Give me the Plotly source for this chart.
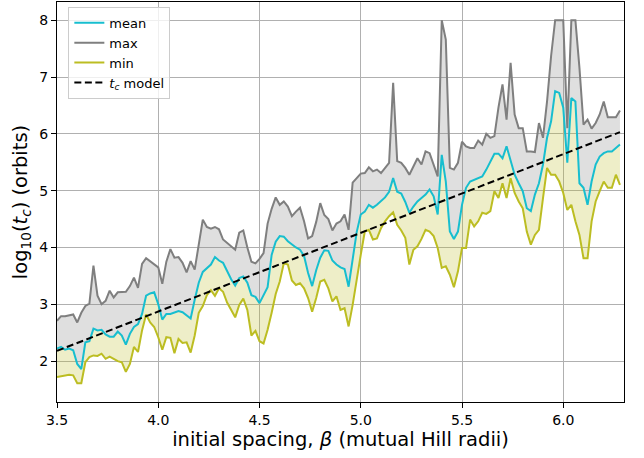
import numpy as np
import plotly.graph_objects as go

# initial spacing beta (mutual Hill radii), 3.50 .. 6.28 step 0.02
beta = [round(3.5 + 0.02 * k, 2) for k in range(140)]

t_max = [2.71, 2.79, 2.79, 2.81, 2.82, 2.68, 2.85, 2.97, 3.01, 3.68,
         3.15, 3.00, 3.06, 3.24, 3.12, 3.21, 3.21, 3.22, 3.32, 3.47,
         3.29, 3.71, 3.81, 3.76, 3.71, 3.65, 3.36, 3.75, 3.97, 3.82,
         3.83, 3.73, 3.56, 3.76, 3.61, 4.02, 4.49, 4.36, 4.33, 4.36,
         4.32, 4.14, 4.08, 4.01, 3.96, 4.26, 4.30, 4.00, 3.75, 3.72,
         3.80, 3.90, 4.42, 4.68, 4.88, 4.75, 4.81, 4.72, 4.55, 4.63,
         4.70, 4.46, 4.16, 4.20, 4.45, 4.78, 4.57, 4.50, 4.30, 4.42,
         4.46, 4.58, 4.31, 5.14, 5.22, 5.30, 5.31, 5.41, 5.34, 5.37,
         5.31, 5.40, 5.49, 6.90, 5.52, 5.49, 5.40, 5.28, 5.43, 5.57,
         5.46, 5.69, 5.66, 5.46, 5.25, 8.00, 7.66, 5.40, 5.37, 5.49,
         5.86, 5.78, 5.75, 5.75, 5.88, 5.81, 6.00, 5.93, 5.96, 6.46,
         6.87, 6.25, 7.25, 6.34, 6.10, 6.10, 5.69, 5.69, 5.68, 6.19,
         5.93, 6.57, 7.37, 8.00, 8.00, 8.00, 6.10, 8.00, 8.00, 7.16,
         6.16, 6.25, 6.09, 6.19, 6.34, 6.57, 6.29, 6.29, 6.29, 6.41]

t_mean = [2.22, 2.25, 2.20, 2.22, 2.19, 1.95, 1.86, 2.33, 2.35, 2.57,
          2.54, 2.55, 2.47, 2.43, 2.43, 2.52, 2.45, 2.29, 2.48, 2.60,
          2.65, 2.83, 3.15, 3.19, 3.21, 3.00, 2.73, 2.83, 2.83, 2.86,
          2.88, 2.86, 2.80, 2.75, 3.08, 3.38, 3.57, 3.64, 3.70, 3.83,
          3.77, 3.73, 3.57, 3.44, 3.33, 3.46, 3.49, 3.38, 3.16, 3.13,
          3.02, 3.15, 3.30, 3.87, 4.10, 4.20, 4.19, 4.11, 4.05, 4.00,
          3.96, 3.85, 3.55, 3.32, 3.60, 3.82, 3.95, 3.94, 3.77, 3.70,
          3.65, 3.62, 3.31, 3.80, 4.27, 4.58, 4.63, 4.75, 4.70, 4.75,
          4.81, 4.88, 4.98, 5.22, 4.98, 4.95, 4.80, 4.61, 4.72, 4.81,
          4.87, 4.93, 5.02, 4.90, 4.58, 5.63, 5.16, 4.28, 4.15, 4.28,
          4.75, 5.05, 5.16, 5.19, 5.22, 5.25, 5.37, 5.52, 5.65, 5.65,
          5.57, 5.78, 5.55, 5.28, 5.13, 4.99, 4.69, 4.64, 4.93, 5.13,
          5.46, 5.93, 6.22, 6.75, 6.72, 6.46, 5.49, 6.63, 6.57, 5.13,
          5.05, 4.75, 5.16, 5.46, 5.60, 5.66, 5.69, 5.69, 5.75, 5.81]

t_min = [1.72, 1.73, 1.75, 1.76, 1.75, 1.61, 1.61, 1.98, 2.07, 2.10,
         2.09, 2.13, 2.04, 2.08, 2.04, 2.00, 1.98, 1.81, 1.95, 2.25,
         2.16, 2.54, 2.82, 2.68, 2.60, 2.42, 2.20, 2.42, 2.41, 2.14,
         2.39, 2.32, 2.33, 2.15, 2.45, 2.85, 2.97, 3.16, 3.25, 3.15,
         3.28, 3.22, 3.03, 2.90, 2.77, 2.99, 3.10, 2.90, 2.45, 2.53,
         2.35, 2.31, 2.55, 2.85, 3.18, 3.40, 3.72, 3.70, 3.42, 3.34,
         3.37, 3.28, 3.11, 2.87, 3.11, 3.40, 3.43, 3.28, 3.05, 3.14,
         2.90, 2.93, 2.61, 2.99, 3.46, 3.87, 4.28, 4.31, 4.14, 4.16,
         4.34, 4.46, 4.55, 4.62, 4.40, 4.30, 4.17, 3.70, 3.96, 4.02,
         4.15, 4.31, 4.28, 4.20, 3.99, 3.64, 3.67, 3.52, 3.30, 3.58,
         3.99, 3.99, 4.49, 4.37, 4.46, 4.61, 4.59, 4.64, 4.99, 4.87,
         5.13, 4.87, 5.22, 4.96, 4.81, 4.69, 4.28, 4.05, 4.22, 4.31,
         4.87, 5.40, 5.28, 5.28, 5.16, 4.96, 4.66, 4.75, 4.46, 4.22,
         3.81, 3.81, 4.46, 4.81, 4.99, 5.16, 5.05, 5.05, 5.28, 5.10]

# t_c model line (end points)
model_beta = [3.5, 6.28]
model_val = [2.18, 6.03]

C_MEAN = "#17becf"
C_MAX = "#7f7f7f"
C_MIN = "#bcbd22"
FONT = "DejaVu Sans"

fig = go.Figure()
# fills
fig.add_trace(go.Scatter(x=beta, y=t_min, mode="lines", line=dict(width=0),
                         showlegend=False, hoverinfo="skip"))
fig.add_trace(go.Scatter(x=beta, y=t_mean, mode="lines", line=dict(width=0),
                         fill="tonexty", fillcolor="rgba(188,189,34,0.25)",
                         showlegend=False, hoverinfo="skip"))
fig.add_trace(go.Scatter(x=beta, y=t_max, mode="lines", line=dict(width=0),
                         fill="tonexty", fillcolor="rgba(127,127,127,0.25)",
                         showlegend=False, hoverinfo="skip"))
# lines
fig.add_trace(go.Scatter(x=beta, y=t_mean, mode="lines", name="mean",
                         line=dict(color=C_MEAN, width=2)))
fig.add_trace(go.Scatter(x=beta, y=t_max, mode="lines", name="max",
                         line=dict(color=C_MAX, width=2)))
fig.add_trace(go.Scatter(x=beta, y=t_min, mode="lines", name="min",
                         line=dict(color=C_MIN, width=2)))
fig.add_trace(go.Scatter(x=model_beta, y=model_val, mode="lines",
                         name="<i>t</i><sub><i>c</i></sub> model",
                         line=dict(color="black", width=2, dash="7px,3.5px")))

axis_common = dict(showline=True, linecolor="black", linewidth=1.1, mirror=True,
                   ticks="outside", ticklen=5, tickwidth=1.1, tickcolor="black",
                   showgrid=True, gridcolor="#b0b0b0", gridwidth=1.1,
                   zeroline=False, tickfont=dict(family=FONT, size=14, color="black"))

fig.update_layout(
    width=644, height=458,
    margin=dict(l=57, r=20, t=2, b=56),
    paper_bgcolor="white", plot_bgcolor="white",
    font=dict(family=FONT, color="black"),
    xaxis=dict(range=[3.5, 6.3], tickvals=[3.5, 4.0, 4.5, 5.0, 5.5, 6.0],
               tickformat=".1f",
               title=dict(text="initial spacing, <i>β</i> (mutual Hill radii)",
                          font=dict(family=FONT, size=19.5), standoff=4),
               **axis_common),
    yaxis=dict(range=[1.28, 8.32], tickvals=[2, 3, 4, 5, 6, 7, 8],
               title=dict(text="log<sub>10</sub>(<i>t</i><sub><i>c</i></sub>) (orbits)",
                          font=dict(family=FONT, size=19.5), standoff=6),
               **axis_common),
    legend=dict(x=0.02, y=0.988, xanchor="left", yanchor="top",
                traceorder="normal",
                bgcolor="rgba(255,255,255,0.8)", bordercolor="#cccccc", borderwidth=1,
                font=dict(family=FONT, size=13, color="black"),
                itemwidth=30, tracegroupgap=0),
    showlegend=True,
)

fig.write_html("out.html")
